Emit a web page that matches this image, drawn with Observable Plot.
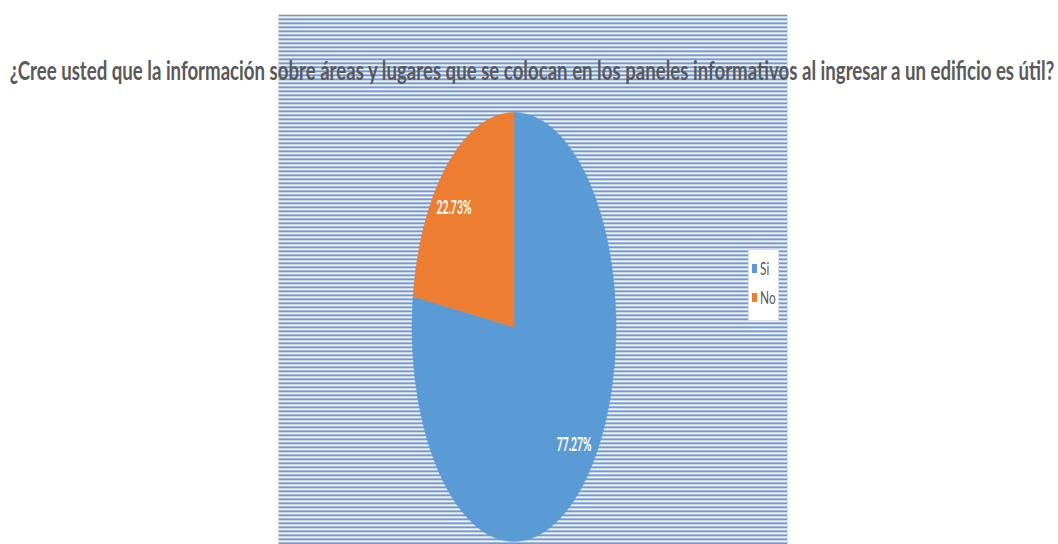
<!DOCTYPE html>
<html><head><meta charset="utf-8">
<script src="https://cdn.jsdelivr.net/npm/d3@7"></script>
<script src="https://cdn.jsdelivr.net/npm/@observablehq/plot@0.6"></script>
<style>
body{margin:0;background:#fff}
#wrap{position:relative;width:1058px;height:544px;overflow:hidden}
.legend{position:absolute;left:748px;top:249px;width:31px;height:72px;background:#fff;border:1px solid #dedede;box-sizing:border-box;font-family:Lato,"Open Sans",sans-serif;font-size:17px;color:#595959}
.legend .item{position:absolute;left:3px;height:17px;display:flex;align-items:center}
.legend .sw{width:5px;height:9px;margin-right:3px}
.legend .lb{display:inline-block;transform:scaleX(0.7);transform-origin:left center}
</style>
</head><body>
<div id="wrap"></div>
<script>
const title = "¿Cree usted que la información sobre áreas y lugares que se colocan en los paneles informativos al ingresar a un edificio es útil?";
const categories = ["Si", "No"];
const values = [77.27, 22.73];
const valueLabels = ["77.27%", "22.73%"];
const colors = ["#5B9BD5", "#ED7D31"];

const pie = d3.pie().sort(null).value(d => d.value)(categories.map((c, i) => ({cat: c, value: values[i], label: valueLabels[i], color: colors[i]})));

function slicePoints(s) {
  const pts = [{x: 0, y: 0, cat: s.data.cat}];
  const n = 180;
  for (let k = 0; k <= n; k++) {
    const t = s.startAngle + (s.endAngle - s.startAngle) * k / n;
    pts.push({x: Math.sin(t), y: -Math.cos(t), cat: s.data.cat});
  }
  pts.push({x: 0, y: 0, cat: s.data.cat});
  return pts;
}

const labelPos = pie.map(s => {
  const m = (s.startAngle + s.endAngle) / 2;
  return {x: 0.9 * Math.sin(m), y: -0.73 * Math.cos(m), text: s.data.label};
});

const plot = Plot.plot({
  width: 1058,
  height: 544,
  marginLeft: 278, marginRight: 271, marginTop: 14, marginBottom: 0,
  x: {domain: [-1, 1], range: [411.5, 615.5], axis: null},
  y: {domain: [-1, 1], range: [112, 541], axis: null},
  style: {background: "#fff", overflow: "visible"},
  marks: [
    Plot.frame({fill: "url(#stripes)", stroke: "#d9d9d9", strokeWidth: 1}),
    ...pie.map(s => Plot.line(slicePoints(s), {x: "x", y: "y", fill: s.data.color, stroke: s.data.color, strokeWidth: 0.5})),
    Plot.text(labelPos, {x: "x", y: "y", text: "text", fill: "white", fontWeight: "bold", fontSize: 18, fontFamily: "Lato, sans-serif", className: "slab"}),
    Plot.text([title], {text: d => d, frameAnchor: "top", dx: -1, dy: 46, fill: "#595959", fontWeight: "bold", fontSize: 27, fontFamily: "Lato, sans-serif", className: "ttl"})
  ]
});

const ns = "http://www.w3.org/2000/svg";
const defs = document.createElementNS(ns, "defs");
defs.innerHTML = '<pattern id="stripes" width="8" height="4" patternUnits="userSpaceOnUse" y="14"><rect width="8" height="4" fill="#ffffff"/><rect y="0" width="8" height="1.3" fill="#3f6fc0"/><rect y="1.3" width="8" height="1" fill="#a3bbe4"/></pattern>';
plot.insertBefore(defs, plot.firstChild);

const wrap = document.getElementById("wrap");
wrap.appendChild(plot);

function squeeze(el, target) {
  const len = el.getComputedTextLength();
  if (!len) return;
  const k = target / len;
  const tr = el.getAttribute("transform") || "";
  el.setAttribute("transform", tr + ` scale(${k},1)`);
}
const tt = plot.querySelector(".ttl text");
if (tt) squeeze(tt, 1045);
plot.querySelectorAll(".slab text").forEach(t => squeeze(t, 35));

const legend = document.createElement("div");
legend.className = "legend";
categories.forEach((c, i) => {
  const it = document.createElement("div");
  it.className = "item";
  it.style.top = (10 + i * 29) + "px";
  it.innerHTML = `<span class="sw" style="background:${colors[i]}"></span><span class="lb">${c}</span>`;
  legend.appendChild(it);
});
wrap.appendChild(legend);
</script>
</body></html>
